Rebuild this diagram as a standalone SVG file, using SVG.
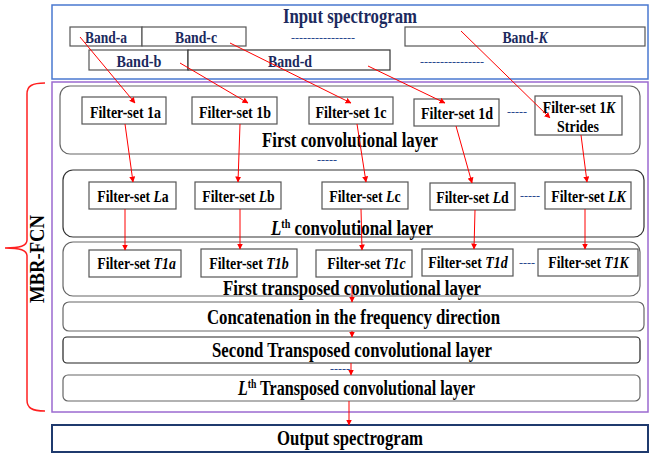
<svg xmlns="http://www.w3.org/2000/svg" width="653" height="458" viewBox="0 0 653 458">
<defs>
<marker id="ah" viewBox="0 0 6 6" refX="5.5" refY="3" markerWidth="6" markerHeight="6" orient="auto" markerUnits="userSpaceOnUse">
<path d="M0,0 L6,3 L0,6 z" fill="#ff0000"/>
</marker>
<style>
text{font-family:"Liberation Serif","Times New Roman",serif;font-weight:bold;text-anchor:middle}
.nv{fill:#1c2a5e}
.fs{font-size:17px}
.bd{font-size:17px}
.big{font-size:20px}
.it{font-style:italic}
.fbox{fill:#fff;stroke:#555;stroke-width:1.2}
.layer{fill:#fff;stroke:#666;stroke-width:1.2}
.band{fill:#fff;stroke:#555;stroke-width:1.2}
.dash{fill:#2a4a8e;font-size:12px;font-weight:normal}
.c{stroke:#ff0000;stroke-width:1;fill:none;marker-end:url(#ah)}
</style>
</defs>
<rect width="653" height="458" fill="#fff"/>

<g id="input">
<rect x="52" y="5" width="596" height="74" fill="#fff" stroke="#4a78d0" stroke-width="1.5"/>
<text x="350" y="23" class="big nv" textLength="134" lengthAdjust="spacingAndGlyphs">Input spectrogram</text>
</g>
<g id="band-a"><rect x="70" y="27" width="72" height="19" class="band"/><text x="106" y="43" class="bd nv" textLength="42" lengthAdjust="spacingAndGlyphs">Band-a</text></g>
<g id="band-c"><rect x="142" y="27" width="104" height="19" class="band"/><text x="196" y="43" class="bd nv" textLength="42" lengthAdjust="spacingAndGlyphs">Band-c</text></g>
<text x="323" y="42" class="dash">----------------</text>
<g id="band-K"><rect x="405" y="27" width="240" height="19" class="band"/><text transform="translate(525,43) scale(0.81,1)" class="bd nv">Band-<tspan class="it">K</tspan></text></g>
<g id="band-b"><rect x="89" y="50" width="99" height="20" class="band"/><text x="139" y="67" class="bd nv" textLength="45" lengthAdjust="spacingAndGlyphs">Band-b</text></g>
<g id="band-d"><rect x="188" y="50" width="202" height="20" fill="#fff" stroke="#333" stroke-width="1.2"/><text x="290" y="67" class="bd nv" textLength="44" lengthAdjust="spacingAndGlyphs">Band-d</text></g>
<text x="452" y="66" class="dash">----------------</text>

<g id="mbr-fcn">
<rect x="52" y="82" width="596" height="330" fill="none" stroke="#9b6ad0" stroke-width="1.5"/>
<path d="M45,83 C32,83 27,86 27,94 L27,240 C27,246 20,248 5,248 C20,248 27,250 27,256 L27,400 C27,408 32,411 45,411" fill="none" stroke="#ff2020" stroke-width="1.5"/>
<text x="0" y="0" transform="translate(44,259) rotate(-90)" class="big" textLength="88" lengthAdjust="spacingAndGlyphs">MBR-FCN</text>
</g>

<g id="conv1">
<rect x="60" y="86" width="580" height="68" rx="10" class="layer"/>
<text x="350" y="147" class="big" textLength="176" lengthAdjust="spacingAndGlyphs">First convolutional layer</text>
</g>
<g id="fs1a"><rect x="82" y="97" width="84" height="27" class="fbox"/><text x="125.5" y="118" class="fs" textLength="71" lengthAdjust="spacingAndGlyphs">Filter-set 1a</text></g>
<g id="fs1b"><rect x="192" y="97" width="85" height="27" class="fbox"/><text x="235" y="118" class="fs" textLength="72" lengthAdjust="spacingAndGlyphs">Filter-set 1b</text></g>
<g id="fs1c"><rect x="309" y="97" width="84" height="27" class="fbox"/><text x="351" y="118" class="fs" textLength="71" lengthAdjust="spacingAndGlyphs">Filter-set 1c</text></g>
<g id="fs1d"><rect x="414" y="99" width="85" height="27" class="fbox"/><text x="457" y="119" class="fs" textLength="72" lengthAdjust="spacingAndGlyphs">Filter-set 1d</text></g>
<text x="517" y="116" class="dash">-----</text>
<g id="fs1K"><rect x="535" y="96" width="87" height="39" class="fbox"/><text transform="translate(579,113) scale(0.81,1)" class="fs">Filter-set 1<tspan class="it">K</tspan></text><text x="578" y="132" class="fs" textLength="42" lengthAdjust="spacingAndGlyphs">Strides</text></g>
<text x="327" y="164" class="dash">-----</text>

<g id="convL">
<rect x="63" y="170" width="581" height="67" rx="10" fill="#fff" stroke="#333" stroke-width="1.2"/>
<text transform="translate(352,235) scale(0.845,1)" class="big"><tspan class="it">L</tspan><tspan font-size="12" dy="-7">th</tspan><tspan dy="7"> convolutional layer</tspan></text>
</g>
<g id="fsLa"><rect x="89" y="182" width="87" height="27" class="fbox" stroke="#333"/><text transform="translate(133,202) scale(0.807,1)" class="fs">Filter-set <tspan class="it">L</tspan>a</text></g>
<g id="fsLb"><rect x="195" y="182" width="86" height="27" class="fbox" stroke="#333"/><text transform="translate(238.5,202) scale(0.81,1)" class="fs">Filter-set <tspan class="it">L</tspan>b</text></g>
<g id="fsLc"><rect x="322" y="182" width="86" height="27" class="fbox" stroke="#333"/><text transform="translate(365,202) scale(0.816,1)" class="fs">Filter-set <tspan class="it">L</tspan>c</text></g>
<g id="fsLd"><rect x="430" y="183" width="85" height="27" class="fbox" stroke="#333"/><text transform="translate(472.5,203) scale(0.81,1)" class="fs">Filter-set <tspan class="it">L</tspan>d</text></g>
<text x="530" y="200" class="dash">-----</text>
<g id="fsLK"><rect x="545" y="182" width="86" height="27" class="fbox" stroke="#333"/><text transform="translate(588.5,202) scale(0.815,1)" class="fs">Filter-set <tspan class="it">LK</tspan></text></g>

<g id="tconv1">
<rect x="63" y="242" width="577" height="54" rx="10" class="layer"/>
<text x="352" y="295" class="big" textLength="258" lengthAdjust="spacingAndGlyphs">First transposed convolutional layer</text>
</g>
<g id="fsT1a"><rect x="89" y="250" width="92" height="27" class="fbox"/><text transform="translate(136.5,269) scale(0.81,1)" class="fs">Filter-set <tspan class="it">T1a</tspan></text></g>
<g id="fsT1b"><rect x="201" y="249" width="96" height="28" class="fbox"/><text transform="translate(249,269) scale(0.82,1)" class="fs">Filter-set <tspan class="it">T1b</tspan></text></g>
<g id="fsT1c"><rect x="316" y="250" width="96" height="27" class="fbox"/><text transform="translate(366.5,269) scale(0.816,1)" class="fs">Filter-set <tspan class="it">T1c</tspan></text></g>
<g id="fsT1d"><rect x="422" y="249" width="91" height="27" class="fbox" stroke="#333"/><text transform="translate(468,268) scale(0.82,1)" class="fs">Filter-set <tspan class="it">T1d</tspan></text></g>
<text x="527" y="267" class="dash">----</text>
<g id="fsT1K"><rect x="538" y="249" width="100" height="27" class="fbox"/><text transform="translate(588.5,268) scale(0.805,1)" class="fs">Filter-set <tspan class="it">T1K</tspan></text></g>

<g id="concat"><rect x="63" y="302" width="581" height="29" rx="6" class="layer"/><text x="353.5" y="324" class="big" textLength="293" lengthAdjust="spacingAndGlyphs">Concatenation in the frequency direction</text></g>
<g id="tconv2"><rect x="63" y="337" width="577" height="26" rx="4" fill="#fff" stroke="#222" stroke-width="1.2"/><text x="352" y="357" class="big" textLength="280" lengthAdjust="spacingAndGlyphs">Second Transposed convolutional layer</text></g>
<text x="340" y="373" class="dash">-----</text>
<g id="tconvL"><rect x="63" y="375" width="577" height="26" rx="5" class="layer"/><text transform="translate(356.5,395) scale(0.805,1)" class="big"><tspan class="it">L</tspan><tspan font-size="12" dy="-7">th</tspan><tspan dy="7"> Transposed convolutional layer</tspan></text></g>

<g id="output"><rect x="52" y="425" width="596" height="27" fill="#fff" stroke="#1f3a6e" stroke-width="2"/><text x="350" y="445" class="big" textLength="146" lengthAdjust="spacingAndGlyphs">Output spectrogram</text></g>

<g id="connectors">
<line x1="80" y1="37" x2="135" y2="103" class="c"/>
<line x1="180" y1="63" x2="248" y2="103" class="c"/>
<line x1="230" y1="43" x2="351" y2="103" class="c"/>
<line x1="368" y1="66" x2="445" y2="103" class="c"/>
<line x1="461" y1="31" x2="550" y2="118" class="c"/>
<line x1="125" y1="124" x2="133" y2="182" class="c"/>
<line x1="240" y1="124" x2="238" y2="182" class="c"/>
<line x1="357" y1="124" x2="366" y2="182" class="c"/>
<line x1="456" y1="126" x2="472" y2="183" class="c"/>
<line x1="581" y1="135" x2="587" y2="182" class="c"/>
<line x1="125" y1="209" x2="125" y2="250" class="c"/>
<line x1="240" y1="209" x2="240" y2="249" class="c"/>
<line x1="361" y1="209" x2="362" y2="250" class="c"/>
<line x1="475" y1="210" x2="474" y2="249" class="c"/>
<line x1="585" y1="209" x2="585" y2="249" class="c"/>
<line x1="352" y1="285" x2="352" y2="302" class="c"/>
<line x1="352" y1="331" x2="352" y2="337" class="c"/>
<line x1="351" y1="363" x2="351" y2="375" class="c"/>
<line x1="349" y1="401" x2="349" y2="425" class="c"/>
</g>
</svg>
